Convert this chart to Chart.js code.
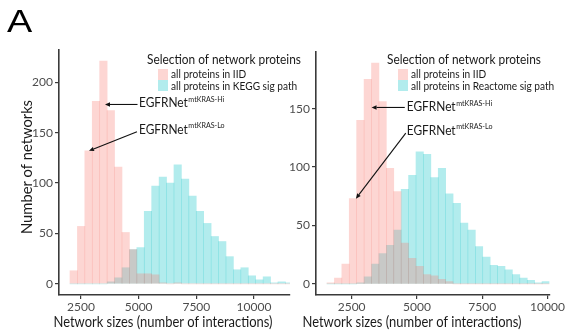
<!DOCTYPE html>
<html><head><meta charset="utf-8">
<script src="https://cdn.jsdelivr.net/npm/chart.js@4"></script>
<style>
html,body{margin:0;padding:0;background:#fff;}
#wrap{position:relative;width:566px;height:336px;overflow:hidden;background:#fff;}
canvas{position:absolute;left:0;top:0;}
#lbl{position:absolute;left:7px;top:6px;font:31px 'Liberation Sans',Arial,sans-serif;color:#000;transform:scaleX(1.22);transform-origin:left top;line-height:31px;}
</style></head><body>
<div id="wrap">
<canvas id="c2" width="566" height="336"></canvas>
<canvas id="c1" width="566" height="336"></canvas>
<div id="lbl">A</div>
</div>
<script>
// ---- data ----
const leftBins = [2184,2506,2828,3150,3472,3794,4116,4438,4760,5082,5404,5726,6048,6370,6692,7014,7336,7658,7980,8302,8624,8946,9268,9590,9912,10234,10556,10878,11200,11522];
const leftIID  = [13,57,132,181,221,172,116,51,34,10,10,9,1,0,1,0,0,0,0,0,0,0,0,0,0,0,0,0,0,0];
const leftKEGG = [0,0,0,0,0,2,6,16,34,36,72,97,106,100,118,104,87,72,60,47,42,27,14,16,8,4,7,1,2,1];

const rightBins = [1699,1983,2267,2551,2835,3119,3403,3687,3971,4255,4539,4823,5107,5391,5675,5959,6243,6527,6811,7095,7379,7663,7947,8231,8515,8799,9083,9367,9651,9935];
const rightIID  = [1,5,17,73,140,175,189,156,99,79,35,22,15,8,7,4,2,0,0,0,0,0,0,0,0,0,0,0,0,0];
const rightReactome = [0,0,0,0,1,6,17,26,33,46,81,93,113,111,91,99,77,69,52,46,32,23,16,15,12,8,5,3,1,2];

const xTickVals = [2500,5000,7500,10000];
const leftYTicks = [0,50,100,150,200];
const rightYTicks = [0,50,100,150];

const legendTitle = 'Selection of network proteins';
const seriesIID = 'all proteins in IID';
const seriesKEGG = 'all proteins in KEGG sig path';
const seriesReactome = 'all proteins in Reactome sig path';
const xTitle = 'Network sizes (number of interactions)';
const yTitle = 'Number of networks';

const PINK = 'rgba(248,118,109,0.3)';
const BLUE = 'rgba(0,191,196,0.3)';
const AXIS = '#3a3a3a';
const FONT = 'Lato, "Open Sans", sans-serif';

function txt(ctx, s, x, y, size, o) {
  o = o || {};
  ctx.save();
  ctx.font = (o.weight || '') + ' ' + size + 'px ' + FONT;
  ctx.fillStyle = o.color || '#1a1a1a';
  ctx.textBaseline = 'middle';
  ctx.textAlign = o.align || 'left';
  const m = ctx.measureText(s).width;
  const sx = o.w ? o.w / m : (o.sx || 1);
  ctx.translate(x, y);
  if (o.rot) ctx.rotate(o.rot);
  ctx.scale(sx, 1);
  ctx.fillText(s, 0, 0);
  ctx.restore();
  return m * sx;
}
function arrow(ctx, x1, y1, x2, y2) {
  ctx.save();
  ctx.strokeStyle = '#111'; ctx.fillStyle = '#111'; ctx.lineWidth = 1.1;
  const a = Math.atan2(y2 - y1, x2 - x1);
  const L = 5, W = 2.2;
  const bx = x2 - L * Math.cos(a), by = y2 - L * Math.sin(a);
  ctx.beginPath(); ctx.moveTo(x1, y1); ctx.lineTo(bx, by); ctx.stroke();
  ctx.beginPath();
  ctx.moveTo(x2, y2);
  ctx.lineTo(bx + W * Math.sin(a), by - W * Math.cos(a));
  ctx.lineTo(bx - W * Math.sin(a), by + W * Math.cos(a));
  ctx.closePath(); ctx.fill();
  ctx.restore();
}

function decorPlugin(cfg) {
  return {
    id: 'decor',
    afterDraw(chart) {
      const ctx = chart.ctx, xs = chart.scales.x, ys = chart.scales.y;
      const X = v => xs.getPixelForValue(v), Y = v => ys.getPixelForValue(v);
      // axis titles
      if (cfg.yTitle) txt(ctx, yTitle, 27, 167, 14.5, {align: 'center', rot: -Math.PI / 2, w: 134});
      txt(ctx, xTitle, cfg.xTitleX, 322, 14.5, {align: 'center', w: 219});
      // legend
      const L = cfg.legend;
      txt(ctx, legendTitle, L.x, 60, 12.5, {w: 154});
      ctx.fillStyle = PINK; ctx.fillRect(L.kx, 69, 10, 11);
      ctx.fillStyle = BLUE; ctx.fillRect(L.kx, 80, 10, 11);
      const sx = L.sx;
      txt(ctx, seriesIID, L.kx + 13, 74.5, 11, {sx});
      txt(ctx, L.second, L.kx + 13, 86.5, 11, {sx});
      // annotations
      cfg.notes.forEach(n => {
        const tx = X(n.text[0]), ty = Y(n.text[1]);
        const w = txt(ctx, 'EGFRNet', tx, ty, 12.5, {sx: 0.95});
        txt(ctx, n.sup, tx + w + 0.5, ty - 4, 7.5, {sx: 0.95});
        arrow(ctx, X(n.tail[0]), Y(n.tail[1]), X(n.head[0]), Y(n.head[1]));
      });
    }
  };
}

function makeChart(id, bins, a, b, opt) {
  const pts = arr => arr.map((v, i) => ({x: bins[i], y: v}));
  const tickFont = {family: FONT, size: 12};
  return new Chart(document.getElementById(id), {
    type: 'bar',
    data: {
      datasets: [
        {label: seriesIID, data: pts(a), backgroundColor: PINK, borderWidth: 0,
         barPercentage: 1, categoryPercentage: 1, grouped: false},
        {label: opt.second, data: pts(b), backgroundColor: BLUE, borderWidth: 0,
         barPercentage: 1, categoryPercentage: 1, grouped: false}
      ]
    },
    options: {
      responsive: false, animation: false, devicePixelRatio: 1,
      layout: {padding: opt.padding},
      plugins: {legend: {display: false}, tooltip: {enabled: false}},
      scales: {
        x: {
          type: 'linear', min: opt.xmin, max: opt.xmax, offset: false,
          grid: {drawOnChartArea: false, offset: false, tickLength: 4, color: AXIS, lineWidth: 1.2},
          border: {display: true, color: AXIS, width: 1.6},
          ticks: {color: '#4d4d4d', font: tickFont, padding: 1, maxRotation: 0, autoSkip: false,
                  callback: v => String(v)},
          afterBuildTicks: ax => { ax.ticks = xTickVals.map(v => ({value: v})); },
          afterFit: ax => { ax.height = 41; }
        },
        y: {
          type: 'linear', min: opt.ymin, max: opt.ymax,
          grid: {drawOnChartArea: false, tickLength: 4, color: AXIS, lineWidth: 1.2},
          border: {display: true, color: AXIS, width: 1.6},
          ticks: {color: '#4d4d4d', font: tickFont, padding: 2, callback: v => String(v)},
          afterBuildTicks: ax => { ax.ticks = opt.yticks.map(v => ({value: v})); },
          afterFit: ax => { ax.width = opt.ywidth; }
        }
      }
    },
    plugins: [decorPlugin(opt)]
  });
}

makeChart('c1', leftBins, leftIID, leftKEGG, {
  second: seriesKEGG,
  padding: {left: 0, top: 50, right: 276, bottom: 0}, ywidth: 59,
  xmin: 1547, xmax: 11560, ymin: -11.05, ymax: 232.05, yticks: leftYTicks,
  yTitle: true, xTitleX: 163,
  legend: {x: 147, kx: 158, second: seriesKEGG, sx: 0.92},
  notes: [
    {text: [5013, 179], sup: 'mtKRAS-Hi', tail: [4950, 178], head: [3540, 178]},
    {text: [5013, 153], sup: 'mtKRAS-Lo', tail: [4927, 151], head: [2847, 132]}
  ]
});
makeChart('c2', rightBins, rightIID, rightReactome, {
  second: seriesReactome,
  padding: {left: 280, top: 52, right: 16, bottom: 0}, ywidth: 36,
  xmin: 1135, xmax: 10075, ymin: -9.45, ymax: 198.45, yticks: rightYTicks,
  yTitle: false, xTitleX: 412,
  legend: {x: 387, kx: 398, second: seriesReactome, sx: 0.92},
  notes: [
    {text: [4611, 151], sup: 'mtKRAS-Hi', tail: [4535, 151], head: [3263, 151]},
    {text: [4611, 131], sup: 'mtKRAS-Lo', tail: [4573, 129], head: [2664, 73]}
  ]
});
</script>
</body></html>
